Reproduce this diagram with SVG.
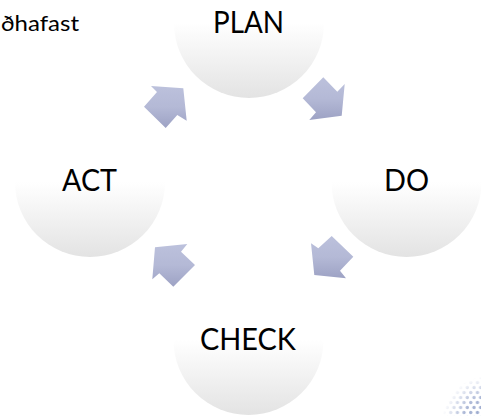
<svg xmlns="http://www.w3.org/2000/svg" width="481" height="416" viewBox="0 0 481 416">
<style>
.n{fill:url(#nodeFill)}
.a{fill:url(#arrowFill)}
text{font-family:"Lato","Liberation Sans",sans-serif;fill:#000}
.l{font-size:30px;text-anchor:middle}
</style>
<defs>
<linearGradient id="nodeFill" x1="0" y1="0" x2="0" y2="1">
<stop offset="0" stop-color="#fff"/><stop offset="0.5" stop-color="#fff"/><stop offset="1" stop-color="#e3e3e3"/>
</linearGradient>
<linearGradient id="arrowFill" x1="0" y1="0" x2="0" y2="1">
<stop offset="0" stop-color="#bcc1dc"/><stop offset="0.5" stop-color="#b4b9d6"/><stop offset="1" stop-color="#9da2c4"/>
</linearGradient>
<pattern id="dots" width="6.700" height="10" patternUnits="userSpaceOnUse">
<circle cx="1.700" cy="2.500" r="1.700" fill="#8f9fc8"/><circle cx="5" cy="7.500" r="1.700" fill="#8f9fc8"/>
</pattern>
<radialGradient id="fade" gradientUnits="userSpaceOnUse" cx="488" cy="422" r="46">
<stop offset="0" stop-color="#fff"/><stop offset="0.55" stop-color="#fff" stop-opacity="0.75"/><stop offset="1" stop-color="#fff" stop-opacity="0"/>
</radialGradient>
<mask id="cornerFade"><rect x="435" y="375" width="46" height="41" fill="url(#fade)"/></mask>
<filter id="soft"><feGaussianBlur stdDeviation="0.5"/></filter>
</defs>
<rect width="481" height="416" fill="#fff"/>
<rect id="corner" x="435" y="375" width="46" height="41" fill="url(#dots)" mask="url(#cornerFade)" filter="url(#soft)"/>
<g id="plan"><circle class="n" cx="249" cy="23" r="75"/><text class="l" x="248.500" y="33" textLength="71" lengthAdjust="spacingAndGlyphs">PLAN</text></g>
<g id="do"><circle class="n" cx="406.500" cy="182" r="75"/><text class="l" x="406.500" y="191" textLength="45" lengthAdjust="spacingAndGlyphs">DO</text></g>
<g id="check"><circle class="n" cx="248.500" cy="340" r="75"/><text class="l" x="248" y="350" textLength="96" lengthAdjust="spacingAndGlyphs">CHECK</text></g>
<g id="act"><circle class="n" cx="90" cy="182" r="75"/><text class="l" x="89.500" y="191" textLength="55" lengthAdjust="spacingAndGlyphs">ACT</text></g>
<text id="note" x="1" y="31" font-size="22" textLength="78" lengthAdjust="spacingAndGlyphs">ðhafast</text>
<g id="connectors">
<polygon class="a" points="323.300,77.300 302.700,98.300 316,112.300 309.300,120 341.700,115.700 344.700,84 337.300,91.700"/>
<polygon class="a" points="331.700,236 353.300,256.700 340,270.700 346,278.300 314.300,275 311,243.300 318.300,248.300"/>
<polygon class="a" points="195,265 173.300,286.700 159.300,273.300 152.300,279.300 155,247.300 187.300,244 181,251.700"/>
<polygon class="a" points="144,106.700 165.700,128 177.300,115 186.700,120.700 183.300,88.300 151,86 157,92"/>
</g>
</svg>
